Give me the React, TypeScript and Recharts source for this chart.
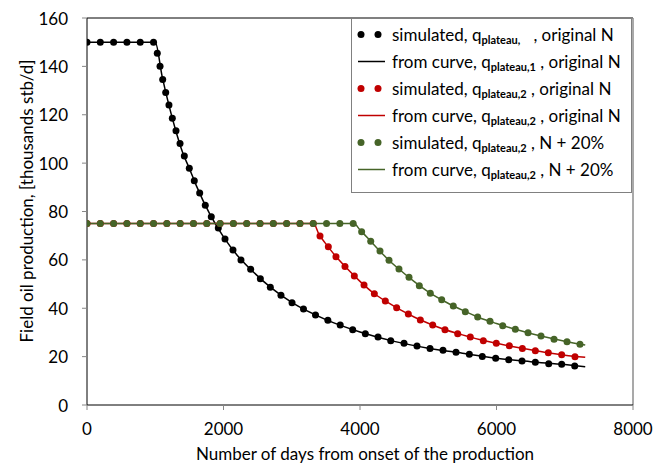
import { ComposedChart, Line, XAxis, YAxis, ReferenceLine } from "recharts";

const FONT = "Lato, 'Open Sans', sans-serif";
const BLACK = "#000000";
const RED = "#C00000";
const GREEN = "#466428";

const xTicks = [0, 2000, 4000, 6000, 8000];
const yTicks = [0, 20, 40, 60, 80, 100, 120, 140, 160];

// simulated, plateau 1 (original N)
const simBlackDays = [
  0, 195, 390, 585, 780, 975, 1030, 1070, 1109, 1153, 1201, 1250, 1304, 1363,
  1426, 1499, 1572, 1651, 1733, 1821, 1924, 2022, 2139, 2256, 2398, 2540, 2686,
  2842, 3004, 3172, 3348, 3529, 3710, 3893, 4078, 4264, 4450, 4645, 4835, 5026,
  5216, 5407, 5602, 5792, 5988, 6179, 6374, 6569, 6765, 6955, 7146,
];
const simBlackRate = [
  150, 150, 150, 150, 150, 150, 145.4, 140.1, 134.6, 129.2, 124.0, 118.6, 113.4,
  108.1, 102.9, 97.9, 92.7, 87.6, 82.6, 77.8, 73.2, 68.6, 64.1, 59.9, 56.1, 52.2,
  48.7, 45.4, 42.3, 39.7, 37.2, 35.0, 33.1, 31.1, 29.5, 28.1, 26.6, 25.5, 24.4,
  23.4, 22.6, 21.8, 21.0, 20.1, 19.3, 18.7, 18.2, 17.7, 17.1, 16.8, 16.1,
];

// from curve, plateau 1
const curveBlackDays = [
  0, 1000, 1100, 1200, 1300, 1400, 1500, 1600, 1800, 2000, 2200, 2400, 2700,
  3000, 3500, 4000, 4500, 5000, 5500, 6000, 6500, 7000, 7300,
];
const curveBlackRate = [
  150, 150, 136, 124, 113.5, 104.5, 97.8, 90.8, 78.9, 69.5, 61.9, 56, 48.4,
  42.4, 35.3, 30.2, 26.3, 23.5, 21.4, 19.3, 17.9, 16.7, 15.8,
];

// simulated, plateau 2 (original N)
const simRedDays = [
  0, 195, 390, 585, 780, 975, 1170, 1365, 1560, 1755, 1950, 2145, 2340, 2535,
  2730, 2925, 3120, 3315, 3414, 3536, 3648, 3780, 3917, 4059, 4210, 4371, 4537,
  4708, 4884, 5065, 5245, 5431, 5616, 5807, 5997, 6188, 6379, 6569, 6759, 6955,
  7150,
];
const simRedRate = [
  75, 75, 75, 75, 75, 75, 75, 75, 75, 75, 75, 75, 75, 75, 75, 75, 75, 75, 69.9,
  65.4, 61.3, 57.3, 53.3, 49.6, 46.0, 43.0, 40.2, 37.6, 35.1, 33.1, 31.1, 29.5,
  28.1, 26.6, 25.5, 24.5, 23.4, 22.4, 21.6, 20.8, 20.0,
];

// from curve, plateau 2
const curveRedDays = [
  0, 3320, 3400, 3500, 3600, 3800, 4000, 4200, 4400, 4600, 4800, 5000, 5250,
  5500, 5750, 6000, 6250, 6500, 6750, 7000, 7300,
];
const curveRedRate = [
  75, 75, 70.5, 66.6, 63, 56.7, 51.1, 46.2, 42.5, 39.2, 36.3, 33.8, 31.1, 29.0,
  27.1, 25.5, 24.1, 22.8, 21.6, 20.6, 19.7,
];

// simulated, plateau 2, N + 20%
const simGreenDays = [
  0, 195, 390, 585, 780, 975, 1170, 1365, 1560, 1755, 1950, 2145, 2340, 2535,
  2730, 2925, 3120, 3315, 3510, 3705, 3900, 4024, 4157, 4293, 4425, 4571, 4718,
  4869, 5030, 5197, 5367, 5543, 5724, 5905, 6091, 6276, 6462, 6652, 6843, 7033,
  7223,
];
const simGreenRate = [
  75, 75, 75, 75, 75, 75, 75, 75, 75, 75, 75, 75, 75, 75, 75, 75, 75, 75, 75, 75,
  75, 71.6, 67.7, 63.7, 59.8, 56.2, 52.8, 49.3, 46.2, 43.5, 40.9, 38.6, 36.4,
  34.6, 32.8, 31.3, 29.9, 28.5, 27.2, 26.2, 25.1,
];

// from curve, plateau 2, N + 20%
const curveGreenDays = [
  0, 3910, 4000, 4200, 4400, 4600, 4800, 5000, 5250, 5500, 5750, 6000, 6250,
  6500, 6750, 7000, 7300,
];
const curveGreenRate = [
  75, 75, 72.4, 66.4, 60.5, 55.5, 50.9, 46.8, 42.7, 39.2, 36.1, 33.7, 31.5,
  29.6, 27.9, 26.4, 24.8,
];

const legendItems = [
  { kind: "dot", color: BLACK, pre: "simulated, q", sub: "plateau,", post: "   , original N" },
  { kind: "line", color: BLACK, pre: "from curve, q", sub: "plateau,1", post: " , original N" },
  { kind: "dot", color: RED, pre: "simulated, q", sub: "plateau,2", post: " , original N" },
  { kind: "line", color: RED, pre: "from curve, q", sub: "plateau,2", post: " , original N" },
  { kind: "dot", color: GREEN, pre: "simulated, q", sub: "plateau,2", post: " , N + 20%" },
  { kind: "line", color: GREEN, pre: "from curve, q", sub: "plateau,2", post: " , N + 20%" },
];

const toPoints = (days: number[], rate: number[]) =>
  days.map((x, i) => ({ x, y: rate[i] }));

const series = [
  { id: "simBlack", data: toPoints(simBlackDays, simBlackRate), color: BLACK, sim: true },
  { id: "curveBlack", data: toPoints(curveBlackDays, curveBlackRate), color: BLACK, sim: false },
  { id: "simRed", data: toPoints(simRedDays, simRedRate), color: RED, sim: true },
  { id: "curveRed", data: toPoints(curveRedDays, curveRedRate), color: RED, sim: false },
  { id: "simGreen", data: toPoints(simGreenDays, simGreenRate), color: GREEN, sim: true },
  { id: "curveGreen", data: toPoints(curveGreenDays, curveGreenRate), color: GREEN, sim: false },
];

const tickStyle = { fill: "#000", fontSize: 17, fontFamily: FONT };

// y tick labels right-aligned at x = 68
const YTick = (props: any) => (
  <text
    x={68}
    y={props.y}
    textAnchor="end"
    dominantBaseline="central"
    fill="#000"
    fontSize={17}
    fontFamily={FONT}>
    {props.payload.value}
  </text>
);

const LegendBox = () => (
  <div
    style={{
      position: "absolute",
      left: 351,
      top: 18,
      width: 279,
      height: 171,
      border: "1px solid #808080",
      background: "#fff",
      fontFamily: FONT,
      fontSize: 17,
      color: "#000",
      paddingTop: 2,
      boxSizing: "content-box",
    }}>
    {legendItems.map((item, i) => (
      <div
        key={i}
        style={{
          height: 27,
          display: "flex",
          alignItems: "center",
          whiteSpace: "pre",
        }}>
        <svg width={40} height={27} style={{ flex: "none" }}>
          {item.kind === "dot" ? (
            <>
              <circle cx={9} cy={13.5} r={3.5} fill={item.color} />
              <circle cx={26} cy={13.5} r={3.5} fill={item.color} />
            </>
          ) : (
            <line x1={6} x2={33} y1={13.5} y2={13.5} stroke={item.color} strokeWidth={1.5} />
          )}
        </svg>
        <span>
          {item.pre}
          <sub style={{ fontSize: 11, fontWeight: 700, verticalAlign: -3 }}>
            {item.sub}
          </sub>
          {item.post}
        </span>
      </div>
    ))}
  </div>
);

export default function App() {
  return (
    <div
      style={{
        position: "absolute",
        left: 0,
        top: 0,
        width: 668,
        height: 466,
        background: "#fff",
      }}>
      <ComposedChart
        width={668}
        height={466}
        margin={{ top: 18, right: 35, bottom: 0, left: 0 }}>
        <XAxis
          type="number"
          dataKey="x"
          domain={[0, 8000]}
          ticks={xTicks}
          allowDataOverflow
          height={61}
          axisLine={{ stroke: "#000" }}
          tickLine={{ stroke: "#868686" }}
          tickSize={5}
          tickMargin={13}
          tick={tickStyle}
        />
        <YAxis
          type="number"
          domain={[0, 160]}
          ticks={yTicks}
          allowDataOverflow
          width={87}
          axisLine={{ stroke: "#000" }}
          tickLine={{ stroke: "#868686" }}
          tickSize={5}
          tick={<YTick />}
        />
        <ReferenceLine y={160} stroke="#000" strokeWidth={1} />
        <ReferenceLine x={8000} stroke="#8c8c8c" strokeWidth={1.5} />
        {series.map((s) =>
          s.sim ? (
            <Line
              key={s.id}
              data={s.data}
              dataKey="y"
              type="linear"
              stroke="none"
              dot={{ r: 3.5, fill: s.color, stroke: s.color, strokeWidth: 0 }}
              activeDot={false}
              isAnimationActive={false}
            />
          ) : (
            <Line
              key={s.id}
              data={s.data}
              dataKey="y"
              type="monotone"
              stroke={s.color}
              strokeWidth={1.5}
              dot={false}
              activeDot={false}
              isAnimationActive={false}
            />
          )
        )}
      </ComposedChart>
      <LegendBox />
      <div
        style={{
          position: "absolute",
          left: 87,
          width: 556,
          top: 444,
          textAlign: "center",
          fontFamily: FONT,
          fontSize: 17,
          color: "#000",
          lineHeight: "20px",
        }}>
        Number of days from onset of the production
      </div>
      <div
        style={{
          position: "absolute",
          left: 27,
          top: 201,
          transform: "translate(-50%, -50%) rotate(-90deg)",
          whiteSpace: "nowrap",
          fontFamily: FONT,
          fontSize: 17,
          color: "#000",
          lineHeight: "20px",
        }}>
        Field oil production, [thousands stb/d]
      </div>
    </div>
  );
}
